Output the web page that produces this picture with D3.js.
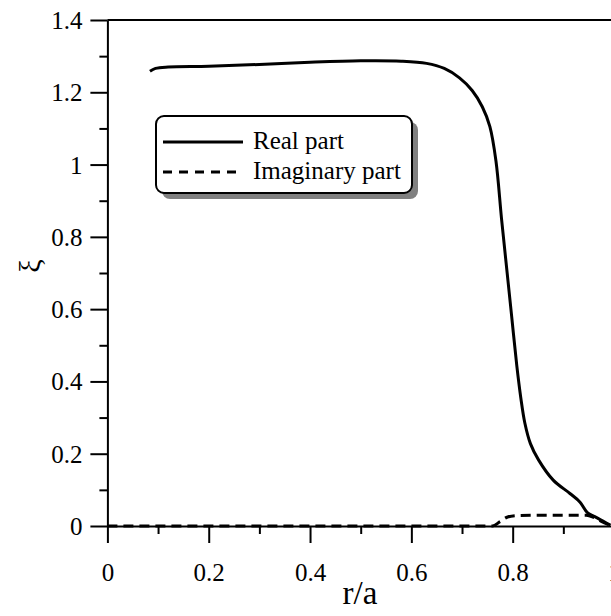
<!DOCTYPE html>
<html>
<head>
<meta charset="utf-8">
<script src="https://cdn.jsdelivr.net/npm/d3@7"></script>
<style>
  html, body { margin: 0; padding: 0; background: #fff; }
  svg { display: block; }
  text { font-family: "Liberation Serif", "Times New Roman", serif; fill: #000; }
</style>
</head>
<body>
<svg id="chart" width="611" height="616"></svg>
<script>
/* values */
const realR = [0.084, 0.095, 0.12, 0.2, 0.3, 0.4, 0.5, 0.58, 0.63, 0.665, 0.695, 0.72, 0.74, 0.755,
  0.767, 0.778, 0.788, 0.798, 0.808, 0.816, 0.824, 0.835, 0.851, 0.88, 0.913, 0.933, 0.948, 0.962, 0.98, 0.993];
const realXi = [1.258, 1.266, 1.270, 1.272, 1.277, 1.283, 1.287, 1.286, 1.280, 1.266, 1.240, 1.205, 1.160, 1.105,
  1.010, 0.850, 0.715, 0.580, 0.445, 0.355, 0.285, 0.228, 0.183, 0.127, 0.090, 0.066, 0.036, 0.026, 0.012, 0.002];

const imagR = [0, 0.2, 0.4, 0.6, 0.76, 0.775, 0.79, 0.81, 0.85, 0.9, 0.945, 0.96, 0.975, 0.99];
const imagXi = [0, 0, 0, 0, 0, 0.012, 0.025, 0.029, 0.030, 0.030, 0.030, 0.024, 0.013, 0.003];

const xTicks = [0, 0.2, 0.4, 0.6, 0.8, 1];
const xMinor = [0.1, 0.3, 0.5, 0.7, 0.9];
const yTicks = [0, 0.2, 0.4, 0.6, 0.8, 1, 1.2, 1.4];
const yMinor = [0.1, 0.3, 0.5, 0.7, 0.9, 1.1, 1.3];

const legendItems = ['Real part', 'Imaginary part'];

/* frame */
const frame = { left: 107.4, right: 614, top: 20, bottom: 526 };
const font = 25;

const svg = d3.select('#chart');

const x = d3.scaleLinear().domain([0, 1]).range([frame.left, frame.right]);
const y = d3.scaleLinear().domain([0, 1.4]).range([frame.bottom, frame.top]);

const fmt = d => d3.format('~g')(d);

/* top frame line */
svg.append('line')
  .attr('x1', frame.left).attr('x2', frame.right)
  .attr('y1', frame.top).attr('y2', frame.top)
  .attr('stroke', '#000').attr('stroke-width', 2);

/* minor ticks */
svg.append('g')
  .attr('transform', `translate(0,${frame.bottom})`)
  .call(d3.axisBottom(x).tickValues(xMinor).tickSize(8).tickSizeOuter(0).tickFormat(''))
  .call(g => g.select('.domain').remove())
  .call(g => g.selectAll('line').attr('stroke-width', 2));
svg.append('g')
  .attr('transform', `translate(${frame.left},0)`)
  .call(d3.axisLeft(y).tickValues(yMinor).tickSize(8).tickSizeOuter(0).tickFormat(''))
  .call(g => g.select('.domain').remove())
  .call(g => g.selectAll('line').attr('stroke-width', 2));

/* major axes */
const xAxis = svg.append('g')
  .attr('transform', `translate(0,${frame.bottom})`)
  .call(d3.axisBottom(x).tickValues(xTicks).tickSize(17).tickSizeOuter(0).tickPadding(20).tickFormat(fmt));
const yAxis = svg.append('g')
  .attr('transform', `translate(${frame.left},0)`)
  .call(d3.axisLeft(y).tickValues(yTicks).tickSize(17).tickSizeOuter(0).tickPadding(8).tickFormat(fmt));

[xAxis, yAxis].forEach(g => {
  g.attr('font-family', null);
  g.selectAll('path, line').attr('stroke', '#000').attr('stroke-width', 2);
  g.selectAll('text')
    .attr('fill', '#000')
    .style('font-family', '"Liberation Serif", "Times New Roman", serif')
    .style('font-size', font + 'px');
});
yAxis.selectAll('text').attr('dy', '0.34em');

/* axis titles */
svg.append('text')
  .attr('x', 360).attr('y', 604)
  .attr('text-anchor', 'middle')
  .style('font-size', '33px')
  .text('r/a');
svg.append('text')
  .attr('transform', 'translate(40,266) rotate(-90)')
  .attr('text-anchor', 'middle')
  .style('font-size', '30px')
  .text('ξ');

/* curves */
const line = d3.line()
  .x(d => x(d[0]))
  .y(d => y(d[1]))
  .curve(d3.curveCatmullRom.alpha(0.5));

svg.append('path')
  .datum(realR.map((r, i) => [r, realXi[i]]))
  .attr('d', line)
  .attr('fill', 'none')
  .attr('stroke', '#000')
  .attr('stroke-width', 3);

svg.append('path')
  .datum(imagR.map((r, i) => [r, imagXi[i]]))
  .attr('d', line.curve(d3.curveMonotoneX))
  .attr('fill', 'none')
  .attr('stroke', '#000')
  .attr('stroke-width', 3)
  .attr('stroke-dasharray', '10,6');

/* legend */
const lg = { x: 156, y: 116, w: 256, h: 77 };
const legend = svg.append('g');
legend.append('rect')
  .attr('x', lg.x + 6).attr('y', lg.y + 6)
  .attr('width', lg.w).attr('height', lg.h)
  .attr('rx', 8)
  .attr('fill', '#808080');
legend.append('rect')
  .attr('x', lg.x).attr('y', lg.y)
  .attr('width', lg.w).attr('height', lg.h)
  .attr('rx', 8)
  .attr('fill', '#fff')
  .attr('stroke', '#000')
  .attr('stroke-width', 2);

legendItems.forEach((name, i) => {
  const cy = lg.y + 26 + i * 30;
  legend.append('line')
    .attr('x1', lg.x + 7).attr('x2', lg.x + 87)
    .attr('y1', cy).attr('y2', cy)
    .attr('stroke', '#000')
    .attr('stroke-width', 3)
    .attr('stroke-dasharray', i === 1 ? '9,7' : null);
  legend.append('text')
    .attr('x', lg.x + 97).attr('y', cy + 7)
    .style('font-size', font + 'px')
    .text(name);
});
</script>
</body>
</html>
